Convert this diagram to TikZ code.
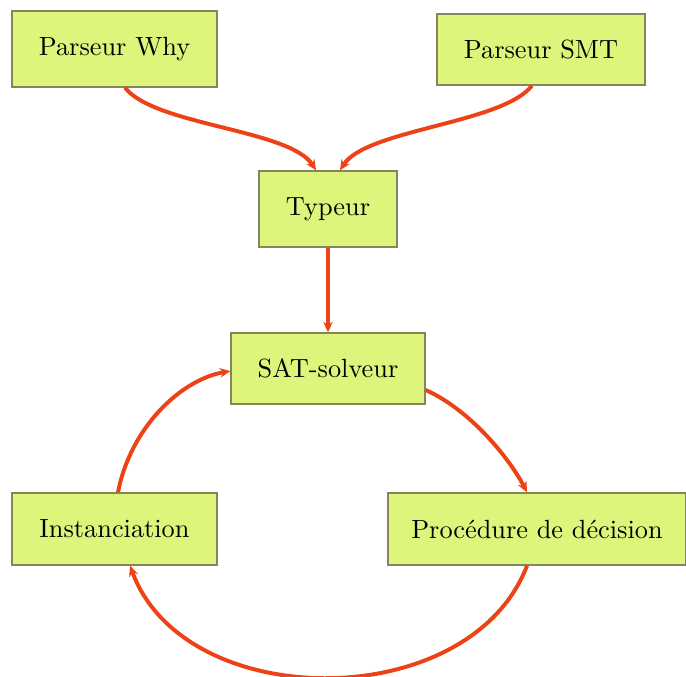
\documentclass[tikz,border=0pt]{standalone}
\usetikzlibrary{arrows.meta,calc}
\definecolor{boxfill}{HTML}{DCF57A}
\definecolor{boxline}{HTML}{85855A}
\definecolor{arr}{HTML}{EC4216}
\begin{document}
\begin{tikzpicture}[x=0.38pt,y=-0.38pt,
  box/.style={draw=boxline,fill=boxfill,line width=0.5pt,inner sep=0pt,font=\normalsize},
  link/.style={draw=arr,line width=1.5pt,-{Stealth[length=4pt,width=3.6pt]}}]
\useasboundingbox (0,0) rectangle (686,677);
\node[box,minimum width=77.9pt,minimum height=28.9pt] (pw) at (114.5,49) {Parseur Why};
\node[box,minimum width=79pt,minimum height=27pt] (ps) at (541,49.5) {Parseur SMT};
\node[box,minimum width=52.4pt,minimum height=28.9pt] (ty) at (328,209) {Typeur};
\node[box,minimum width=73.7pt,minimum height=27pt] (sat) at (328,368.5) {SAT-solveur};
\node[box,minimum width=77.9pt,minimum height=27.4pt] (inst) at (114.5,529) {Instanciation};
\node[box,minimum width=113.2pt,minimum height=27.4pt] (proc) at (537,529) {Procédure de décision};
\draw[link] ($(pw.south)+(10.5,0)$) .. controls +(30,38) and +(-26,-41) .. ($(ty.north)+(-12,0)$);
\draw[link] ($(ps.south)+(-9,0)$) .. controls +(-30,38) and +(26,-41) .. ($(ty.north)+(12,0)$);
\draw[link] (ty.south) -- (sat.north);
\draw[link] ($(sat.east)+(0,21.5)$) .. controls +(45,20) and +(-17,-33) .. ($(proc.north)+(-10,0)$);
\draw[link] ($(proc.south)+(-10,0)$) .. controls +(-57,149) and +(55,149) .. ($(inst.south)+(15.5,0)$);
\draw[link] ($(inst.north)+(3.5,0)$) .. controls +(12,-63) and +(-51,9) .. ($(sat.west)+(0,2.5)$);
\end{tikzpicture}
\end{document}
